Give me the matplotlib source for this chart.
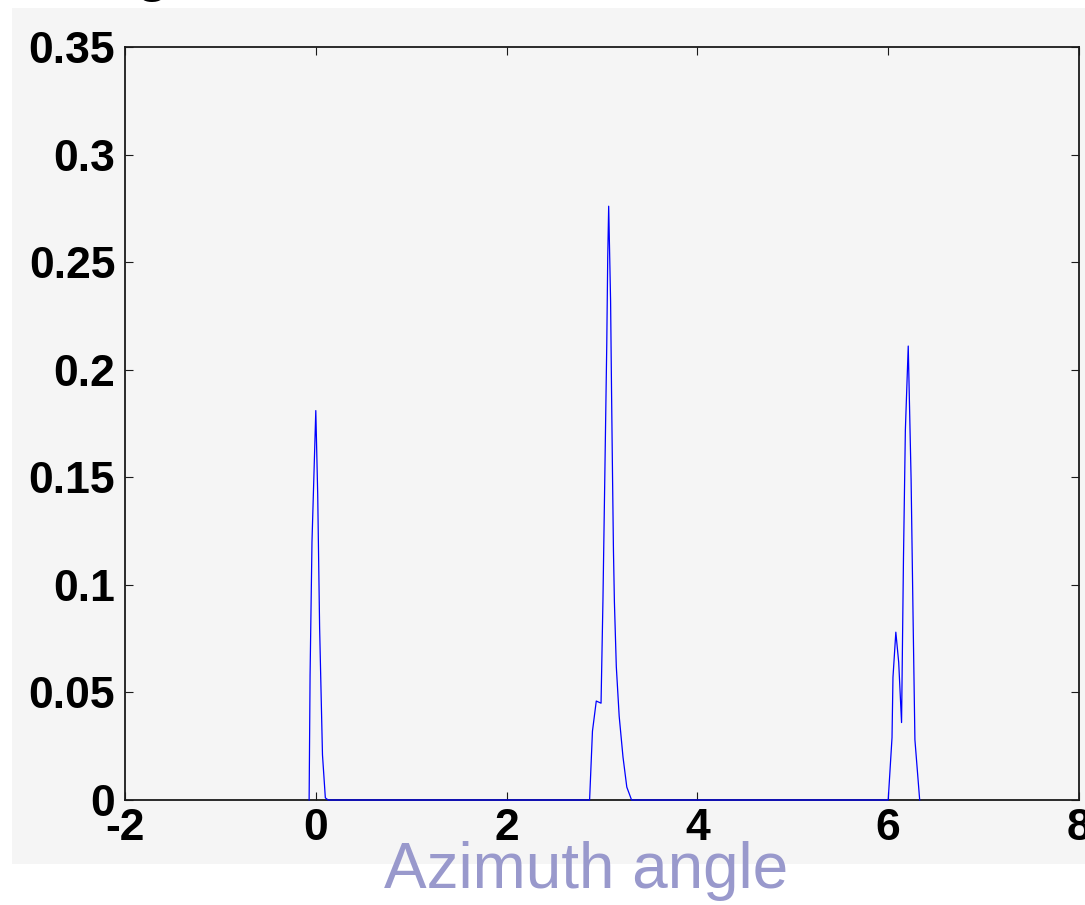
import matplotlib.pyplot as plt
from matplotlib.patches import Rectangle

# azimuth histogram
AZIMUTH = [
    -0.07, -0.06, -0.04, 0.00, 0.02, 0.04, 0.07, 0.10, 0.13,
    2.87, 2.90, 2.94, 2.99, 3.01, 3.03, 3.05, 3.06, 3.07, 3.09, 3.10,
    3.11, 3.12, 3.13, 3.15, 3.18, 3.22, 3.26, 3.31,
    6.00, 6.04, 6.05, 6.08, 6.11, 6.14, 6.16, 6.18, 6.21, 6.24, 6.26,
    6.28, 6.33,
]
DENSITY = [
    0.0, 0.058, 0.120, 0.181, 0.142, 0.080, 0.021, 0.001, 0.0,
    0.0, 0.032, 0.046, 0.045, 0.093, 0.152, 0.212, 0.252, 0.276, 0.232, 0.190,
    0.152, 0.116, 0.092, 0.062, 0.039, 0.020, 0.006, 0.0,
    0.0, 0.029, 0.057, 0.078, 0.064, 0.036, 0.112, 0.172, 0.211, 0.149, 0.087,
    0.028, 0.0,
]
X_TICKS = [-2, 0, 2, 4, 6, 8]
Y_TICKS = [0, 0.05, 0.1, 0.15, 0.2, 0.25, 0.3, 0.35]
Y_LABELS = ["0", "0.05", "0.1", "0.15", "0.2", "0.25", "0.3", "0.35"]
X_LABEL = "Azimuth angle"

W, H = 1085, 905
PANEL = "#f5f5f5"

plt.rcParams["axes.unicode_minus"] = False

fig = plt.figure(figsize=(W / 100, H / 100), dpi=100, facecolor="white")

# grey MATLAB figure panel
fig.patches.append(
    Rectangle((12 / W, 1 - 864 / H), 1 - 12 / W, (864 - 8) / H,
              transform=fig.transFigure, facecolor=PANEL, edgecolor="none",
              zorder=-2)
)

ax = fig.add_axes([125 / W, 1 - 800 / H, (1079 - 125) / W, (800 - 47) / H])
ax.set_facecolor(PANEL)
ax.plot(AZIMUTH, DENSITY, color="#0000ff", linewidth=0.9, zorder=3,
        clip_on=False)

ax.set_xlim(-2, 8)
ax.set_ylim(0, 0.35)
ax.set_xticks(X_TICKS)
ax.set_xticklabels([str(t) for t in X_TICKS])
ax.set_yticks(Y_TICKS)
ax.set_yticklabels(Y_LABELS)

for spine in ax.spines.values():
    spine.set_linewidth(1.3)
    spine.set_color("#1a1a1a")

ax.tick_params(direction="in", length=6, width=0.8, color="#1a1a1a",
               top=True, right=True, labelsize=32, pad=7)
ax.tick_params(axis="x", pad=6)
for lbl in ax.get_xticklabels() + ax.get_yticklabels():
    lbl.set_fontweight("bold")
    lbl.set_family("Liberation Sans")

fig.text(586 / W, 1 - 888 / H, X_LABEL, color="#9999cc", fontsize=46,
         family="Liberation Sans", ha="center", va="baseline", zorder=-1)

# bottom of a cut-off title letter at the very top
fig.text(152 / W, 1 + 11 / H, "g", color="black", fontsize=46,
         family="Liberation Sans", ha="center", va="baseline")

fig.savefig("out.png", dpi=100, facecolor="white")
